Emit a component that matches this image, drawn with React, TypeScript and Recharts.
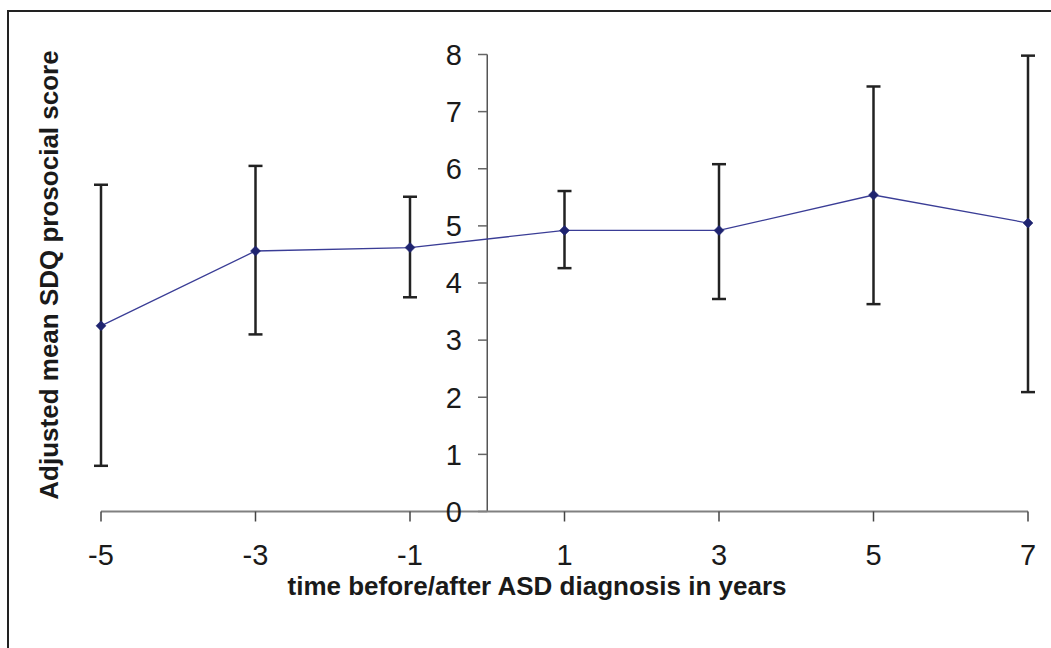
import { ComposedChart, Line, ErrorBar, XAxis, YAxis, ReferenceLine, Label } from 'recharts'

// ── Data ────────────────────────────────────────────────────────────────────
const YEARS = [-5, -3, -1, 1, 3, 5, 7]
const MEANS = [3.25, 4.56, 4.62, 4.92, 4.92, 5.54, 5.05]
const LOWER = [0.8, 3.1, 3.75, 4.26, 3.72, 3.63, 2.09]
const UPPER = [5.72, 6.05, 5.51, 5.61, 6.08, 7.44, 7.98]
const X_TICKS = [-5, -3, -1, 1, 3, 5, 7]
const Y_TICKS = [0, 1, 2, 3, 4, 5, 6, 7, 8]

const data = YEARS.map((t, i) => ({
  t,
  mean: MEANS[i],
  err: [MEANS[i] - LOWER[i], UPPER[i] - MEANS[i]],
}))

const FONT = 'Arial, "Liberation Sans", sans-serif'
const TEXT = '#1a1a1a'
const LINE_COLOR = '#3a3d96'
const DOT_COLOR = '#1f2470'

function Diamond({ cx, cy }: { cx?: number; cy?: number }) {
  if (cx == null || cy == null) return null
  const r = 5
  return (
    <polygon
      points={`${cx},${cy - r} ${cx + r},${cy} ${cx},${cy + r} ${cx - r},${cy}`}
      fill={DOT_COLOR}
      stroke={DOT_COLOR}
      strokeWidth={0.5}
    />
  )
}

function Titles() {
  return (
    <g fontFamily={FONT} fontWeight="bold" fontSize={26} fill={TEXT}>
      <text x={537} y={595} textAnchor="middle">time before/after ASD diagnosis in years</text>
      <text x={57.5} y={275} textAnchor="middle" transform="rotate(-90, 57.5, 275)">
        Adjusted mean SDQ prosocial score
      </text>
    </g>
  )
}

export default function App() {
  return (
    <div style={{ position: 'absolute', left: 0, top: 0, width: 1051, height: 648, background: '#fff', overflow: 'hidden' }}>
      {/* frame */}
      <div style={{ position: 'absolute', left: 7, top: 10, width: 1060, height: 660, borderLeft: '2px solid #222', borderTop: '2px solid #222' }} />
      <ComposedChart
        width={1051}
        height={648}
        data={data}
        margin={{ top: 54.5, right: 23, left: 101, bottom: 76.5 }}
        style={{ position: 'absolute', left: 0, top: 0 }}
      >
        <XAxis
          dataKey="t"
          type="number"
          domain={[-5, 7]}
          ticks={X_TICKS}
          height={60}
          axisLine={{ stroke: '#808080', strokeWidth: 2 }}
          tickLine={{ stroke: '#444', strokeWidth: 1.5 }}
          tickSize={10}
          tickMargin={23}
          tick={{ fontSize: 29, fill: TEXT, fontFamily: FONT }}
        >
          <Label content={<Titles />} />
        </XAxis>
        <YAxis hide type="number" domain={[0, 8]} ticks={Y_TICKS} width={0} />

        {/* vertical axis drawn at year 0 */}
        <ReferenceLine x={0} stroke="#555" strokeWidth={1.5} />
        {Y_TICKS.map((v) => (
          <ReferenceLine
            key={v}
            segment={[{ x: -0.12, y: v }, { x: 0, y: v }]}
            stroke="#666"
            strokeWidth={1.5}
            label={{ value: String(v), position: 'left', offset: 16, fontSize: 29, fill: TEXT, fontFamily: FONT }}
          />
        ))}

        <Line
          dataKey="mean"
          stroke={LINE_COLOR}
          strokeWidth={1.3}
          dot={<Diamond />}
          activeDot={false}
          isAnimationActive={false}
        >
          <ErrorBar dataKey="err" width={7} stroke="#222" strokeWidth={2.5} direction="y" />
        </Line>
      </ComposedChart>
    </div>
  )
}
